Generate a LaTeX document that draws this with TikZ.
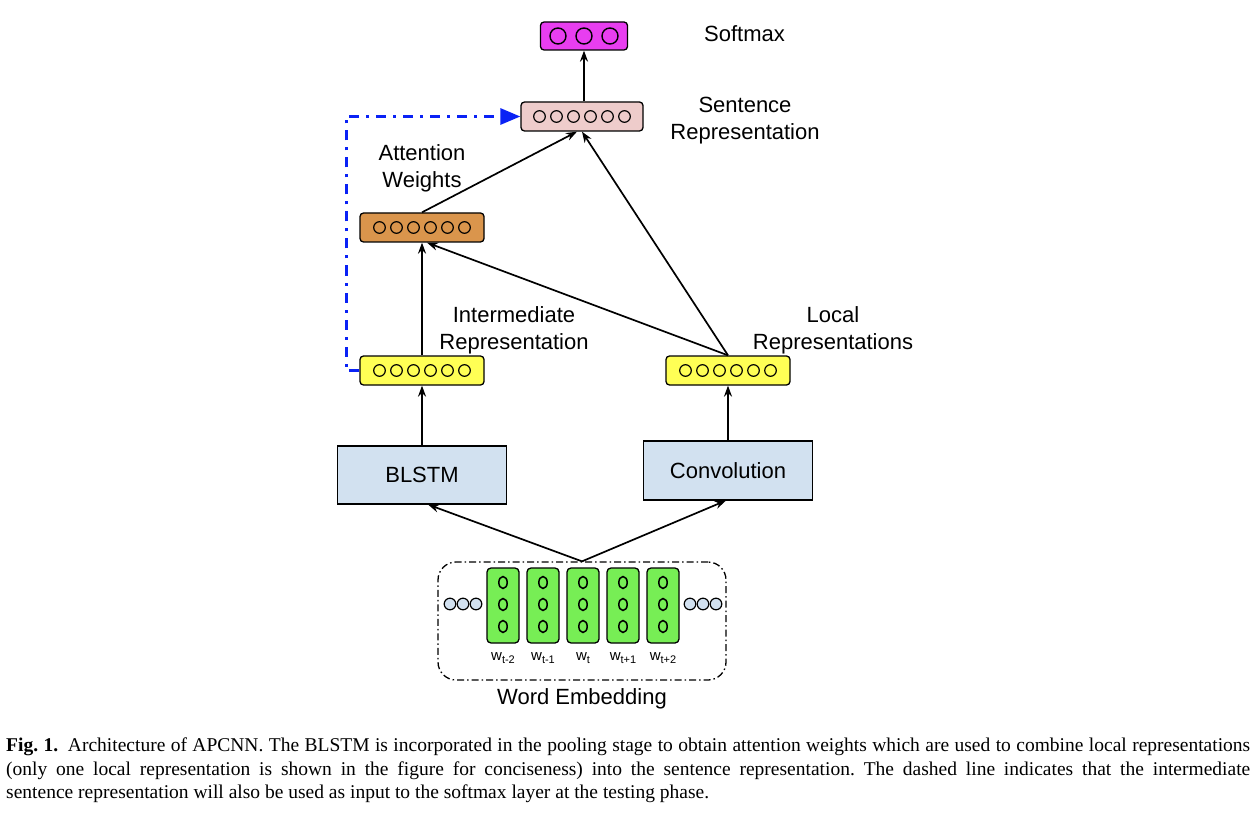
\documentclass[tikz,border=0pt]{standalone}
\usepackage{fontspec}
\setmainfont{Liberation Sans}
\newfontfamily\capfont{Liberation Serif}
\usetikzlibrary{arrows.meta,calc}
\definecolor{softc}{HTML}{E83EF0}
\definecolor{sentc}{HTML}{EECCCB}
\definecolor{attc}{HTML}{DA954C}
\definecolor{yelc}{HTML}{FFFF55}
\definecolor{blkc}{HTML}{D2E1F0}
\definecolor{grnc}{HTML}{77EE55}
\definecolor{dotc}{HTML}{D2E1F0}
\definecolor{bluec}{HTML}{0A22F5}
\tikzset{
  layer/.style={draw, line width=1.3pt, rounded corners=3.5pt, minimum height=29pt, minimum width=124pt, inner sep=0pt},
  blk/.style={draw, line width=1.1pt, fill=blkc, minimum width=169pt, minimum height=58pt, inner sep=0pt, font=\fontsize{22}{26}\selectfont},
  col/.style={draw, line width=1.3pt, fill=grnc, rounded corners=4pt, minimum width=32pt, minimum height=75pt, inner sep=0pt},
  emb/.style={draw, line width=1.3pt, dash pattern=on 7pt off 3pt on 1.5pt off 3pt, rounded corners=18pt, minimum width=288pt, minimum height=118pt, inner sep=0pt},
  conn/.style={-{Stealth[length=11pt,width=8pt]}, line width=1.7pt},
  bluel/.style={bluec, line width=3pt, dash pattern=on 10pt off 7pt on 3pt off 7pt, -{Triangle[length=20pt,width=16pt]}},
  lbl/.style={font=\fontsize{22}{27}\selectfont, align=center, inner sep=0pt},
  wl/.style={font=\fontsize{15}{17}\selectfont, inner sep=0pt},
  cir/.style={line width=1.2pt},
}
\newcommand{\wsub}[1]{w\raisebox{-0.45ex}{\fontsize{11}{12}\selectfont #1}}
\begin{document}
\frenchspacing
\begin{tikzpicture}[x=1pt,y=-1pt]
\useasboundingbox (0,0) rectangle (1260,818);
\fill[white] (0,0) rectangle (1260,818);

% layers
\node[layer, fill=softc, minimum width=87pt, minimum height=28pt] (soft) at (584,36) {};
\foreach \i in {-1,0,1} \draw[cir, line width=1.4pt] ($(soft.center)+(\i*26,0)$) circle (8pt);
\node[layer, fill=sentc, minimum width=122pt] (sent) at (582,116.5) {};
\node[layer, fill=attc] (att) at (422,227.5) {};
\node[layer, fill=yelc] (inter) at (422,370.5) {};
\node[layer, fill=yelc] (local) at (728,370.5) {};
\foreach \n in {sent,att,inter,local}
  \foreach \i in {-2.5,-1.5,-0.5,0.5,1.5,2.5}
    \draw[cir] ($(\n.center)+(\i*17,0)$) circle (5.8pt);

% blocks
\node[blk] (blstm) at (422,475) {BLSTM};
\node[blk, minimum height=59pt] (conv) at (728,470.5) {Convolution};

% word embedding
\node[emb] (emb) at (582,621) {};
\foreach \k/\x/\s in {1/503/{t-2},2/543/{t-1},3/583/{t},4/623/{t+1},5/663/{t+2}}{
  \node[col] (c\k) at (\x,605.5) {};
  \foreach \yy in {-23,-1,21} \draw[line width=1.5pt] ($(c\k.center)+(0,\yy)$) ellipse (4.2pt and 6pt);
  \node[wl, anchor=base] (w\k) at (\x,660) {\wsub{\s}};
}
\foreach \x in {450,463,476,690,703,716} \draw[line width=1.2pt, fill=dotc] (\x,604) circle (5.8pt);

% labels
\node[lbl, anchor=west] (lsoft) at (704,34) {Softmax};
\node[lbl] (lsent) at (745,121) {Sentence\\Representation};
\node[lbl] (latt) at (422,168) {Attention\\Weights};
\node[lbl] (linter) at (514,330) {Intermediate\\Representation};
\node[lbl] (llocal) at (833,330) {Local\\Representations};
\node[lbl] (lemb) at (582,699) {Word Embedding};

% connectors
\draw[conn] (emb.north) -- ([xshift=6pt]blstm.south);
\draw[conn] (emb.north) -- ([xshift=-2pt]conv.south);
\draw[conn] (blstm.north) -- (blstm.north |- inter.south);
\draw[conn] (conv.north) -- (conv.north |- local.south);
\draw[conn] (inter.north) -- (inter.north |- att.south);
\draw[conn] (local.north) -- ([xshift=5pt]att.south);
\draw[conn] (local.north) -- (sent.south);
\draw[conn] (att.north) -- ([xshift=-5pt]sent.south);
\draw[conn] (sent.north -| soft.south) -- (soft.south);
\draw[bluel] (inter.west) -- ++(-13,0) |- (sent.west);

% caption
\node[anchor=north west, text width=1244pt, align=justify, inner sep=0pt,
  font=\capfont\fontsize{19.5}{23.5}\selectfont] (cap) at (6,738)
  {\textbf{Fig. 1.}\hspace{0.5em}Architecture of APCNN. The BLSTM is incorporated in the pooling stage to obtain attention weights which are used to combine local representations\linebreak (only one local representation is shown in the figure for conciseness) into the sentence representation. The dashed line indicates that the intermediate\linebreak sentence representation will also be used as input to the softmax layer at the testing phase.};
\end{tikzpicture}
\end{document}
